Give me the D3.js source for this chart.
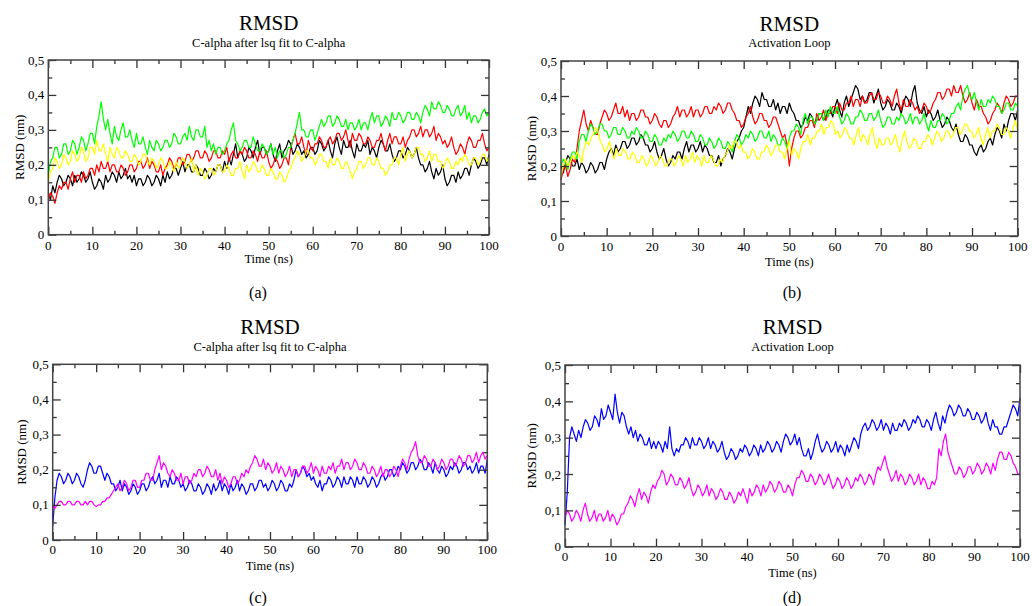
<!DOCTYPE html>
<html><head><meta charset="utf-8">
<script src="https://cdn.jsdelivr.net/npm/d3@7"></script>
<style>body{margin:0;background:#fff}svg{display:block}text{font-family:"Liberation Serif","Times New Roman",serif;fill:#000}</style>
</head><body><svg id="c" width="1032" height="606"></svg>
<script>
// ---- data (RMSD in nm, sampled every 0.5 ns from t = 0 to 100 ns) ----
const xTicks = [0,10,20,30,40,50,60,70,80,90,100];
const yTicks = [0,0.1,0.2,0.3,0.4,0.5];
const yTickLabels = ["0","0,1","0,2","0,3","0,4","0,5"];
const titles = ["RMSD","RMSD","RMSD","RMSD"];
const subtitles = ["C-alpha after lsq fit to C-alpha","Activation Loop","C-alpha after lsq fit to C-alpha","Activation Loop"];
const captions = ["(a)","(b)","(c)","(d)"];

const aBlack = [.12,.1,.14,.12,.15,.17,.16,.14,.15,.17,.16,.14,.17,.15,.16,.18,.17,.15,.16,.18,.15,.13,.14,.16,.15,.13,.17,.15,.16,.18,.17,.15,.18,.16,.17,.19,.16,.17,.15,.17,.14,.16,.16,.14,.15,.17,.16,.14,.15,.17,.16,.14,.17,.15,.18,.16,.17,.19,.19,.17,.19,.21,.18,.2,.2,.18,.18,.2,.19,.17,.17,.19,.18,.16,.17,.19,.18,.2,.2,.18,.21,.19,.22,.2,.23,.26,.22,.24,.23,.21,.22,.25,.24,.22,.25,.27,.23,.25,.25,.23,.24,.26,.23,.21,.24,.26,.22,.24,.25,.27,.26,.23,.24,.26,.25,.23,.24,.22,.23,.25,.25,.23,.24,.27,.26,.24,.25,.27,.24,.22,.26,.28,.25,.23,.27,.25,.25,.27,.24,.22,.26,.24,.24,.26,.25,.27,.23,.25,.24,.22,.25,.27,.26,.24,.24,.26,.23,.21,.22,.24,.24,.22,.23,.25,.24,.22,.23,.25,.22,.2,.2,.18,.19,.21,.18,.16,.19,.17,.18,.2,.16,.14,.15,.17,.17,.15,.18,.16,.17,.19,.19,.17,.2,.22,.21,.19,.2,.22,.22,.2,.23];
const aRed = [.1,.12,.11,.09,.12,.14,.13,.15,.15,.13,.16,.18,.15,.17,.17,.15,.18,.16,.17,.19,.19,.17,.2,.18,.21,.19,.19,.21,.18,.2,.2,.18,.18,.2,.19,.17,.18,.2,.2,.18,.19,.21,.21,.19,.2,.22,.19,.21,.2,.18,.18,.2,.17,.19,.2,.22,.21,.19,.2,.22,.22,.2,.21,.23,.23,.21,.22,.24,.24,.22,.22,.24,.23,.21,.22,.24,.24,.22,.22,.24,.23,.25,.21,.23,.24,.22,.22,.24,.23,.25,.24,.22,.22,.24,.23,.21,.24,.22,.22,.24,.21,.19,.2,.22,.21,.19,.2,.22,.22,.2,.25,.27,.29,.26,.26,.28,.25,.23,.27,.25,.24,.26,.26,.28,.27,.25,.25,.27,.28,.26,.27,.29,.29,.27,.28,.3,.27,.25,.29,.27,.27,.29,.28,.26,.26,.28,.27,.25,.25,.27,.27,.29,.26,.24,.27,.29,.26,.28,.28,.26,.26,.28,.25,.27,.28,.3,.3,.28,.29,.31,.28,.3,.3,.28,.29,.31,.27,.29,.28,.26,.27,.25,.26,.28,.25,.23,.24,.26,.25,.23,.26,.28,.27,.25,.25,.27,.27,.29,.26,.24,.25];
const aGreen = [.17,.21,.22,.25,.25,.22,.23,.26,.26,.23,.24,.27,.26,.23,.25,.28,.27,.24,.26,.29,.29,.26,.31,.34,.38,.33,.3,.33,.29,.26,.31,.28,.27,.3,.32,.28,.28,.3,.27,.25,.29,.26,.26,.28,.25,.23,.27,.25,.24,.27,.26,.24,.25,.27,.27,.25,.26,.29,.28,.26,.26,.28,.29,.27,.31,.28,.27,.3,.3,.28,.28,.31,.25,.27,.24,.26,.23,.25,.25,.23,.24,.26,.27,.3,.32,.27,.26,.24,.25,.27,.27,.25,.25,.28,.26,.24,.24,.26,.25,.23,.24,.26,.23,.25,.22,.24,.24,.22,.23,.25,.25,.27,.29,.32,.35,.3,.3,.28,.28,.3,.3,.27,.29,.31,.33,.31,.32,.34,.34,.31,.32,.34,.33,.31,.31,.33,.3,.32,.32,.3,.31,.33,.3,.32,.32,.3,.33,.35,.32,.34,.34,.31,.32,.34,.33,.31,.35,.33,.33,.35,.34,.32,.33,.35,.35,.33,.33,.35,.34,.32,.35,.37,.36,.34,.38,.36,.36,.38,.37,.35,.35,.37,.36,.34,.34,.36,.37,.34,.35,.37,.33,.35,.32,.34,.34,.32,.33,.35,.36,.34,.35];
const aYellow = [.15,.18,.19,.22,.21,.19,.2,.23,.22,.2,.21,.24,.23,.21,.22,.25,.24,.21,.22,.25,.25,.23,.27,.24,.24,.26,.23,.21,.25,.23,.22,.25,.24,.22,.22,.24,.23,.21,.21,.23,.22,.2,.21,.23,.23,.21,.2,.22,.21,.19,.2,.22,.21,.19,.19,.21,.2,.18,.21,.19,.2,.22,.21,.19,.2,.22,.18,.2,.17,.19,.18,.16,.17,.19,.19,.17,.18,.2,.2,.18,.18,.2,.19,.17,.17,.19,.19,.21,.18,.16,.2,.18,.19,.21,.2,.18,.18,.2,.19,.17,.17,.19,.18,.16,.16,.18,.17,.15,.16,.18,.19,.21,.22,.24,.23,.21,.22,.24,.24,.22,.22,.2,.21,.23,.23,.21,.21,.19,.22,.2,.2,.22,.21,.19,.19,.21,.2,.18,.16,.18,.19,.21,.21,.19,.2,.22,.22,.2,.2,.22,.21,.19,.19,.17,.18,.2,.2,.22,.22,.2,.23,.25,.21,.23,.24,.22,.23,.25,.25,.23,.23,.21,.22,.24,.21,.23,.23,.21,.21,.19,.2,.22,.21,.19,.19,.21,.2,.22,.21,.23,.22,.2,.2,.22,.22,.2,.21,.23,.23,.21,.22];

const bBlack = [.2,.18,.21,.23,.22,.2,.2,.22,.19,.21,.2,.18,.19,.21,.2,.18,.19,.21,.21,.19,.22,.24,.25,.23,.26,.24,.25,.27,.27,.25,.26,.28,.28,.26,.27,.29,.28,.26,.26,.24,.25,.27,.24,.22,.23,.25,.22,.2,.21,.23,.22,.24,.24,.22,.25,.27,.24,.26,.26,.24,.25,.27,.24,.26,.25,.23,.23,.21,.21,.23,.2,.22,.23,.25,.24,.22,.25,.27,.28,.3,.31,.34,.37,.35,.38,.4,.39,.37,.41,.39,.39,.37,.37,.39,.36,.38,.35,.37,.37,.35,.38,.36,.35,.33,.33,.31,.32,.34,.33,.35,.34,.32,.33,.35,.35,.33,.34,.36,.36,.34,.37,.39,.36,.34,.38,.4,.37,.39,.41,.43,.42,.39,.4,.38,.39,.41,.41,.38,.4,.42,.38,.36,.37,.39,.38,.36,.36,.38,.37,.35,.38,.4,.39,.37,.41,.43,.38,.36,.35,.37,.34,.36,.35,.33,.34,.36,.33,.31,.32,.34,.33,.31,.3,.32,.29,.27,.27,.29,.28,.26,.26,.24,.23,.25,.26,.24,.25,.27,.28,.26,.29,.31,.3,.28,.32,.3,.33,.35,.35,.33,.36];
const bRed = [.16,.19,.2,.17,.19,.22,.21,.25,.3,.33,.36,.32,.3,.33,.31,.29,.29,.32,.34,.36,.35,.33,.34,.36,.38,.35,.35,.37,.34,.36,.33,.35,.35,.33,.34,.36,.36,.34,.34,.32,.33,.35,.34,.32,.31,.33,.33,.31,.32,.34,.35,.37,.34,.36,.36,.34,.35,.37,.34,.36,.36,.34,.35,.37,.37,.35,.35,.37,.36,.38,.37,.35,.36,.38,.38,.36,.35,.33,.33,.31,.32,.34,.35,.37,.34,.32,.33,.35,.35,.33,.33,.31,.32,.34,.34,.32,.3,.28,.29,.26,.2,.25,.28,.3,.3,.28,.29,.31,.31,.33,.33,.31,.35,.33,.34,.36,.33,.35,.35,.37,.37,.35,.38,.36,.36,.38,.38,.4,.37,.39,.39,.37,.4,.38,.38,.4,.41,.39,.39,.41,.4,.38,.38,.4,.39,.37,.4,.42,.38,.36,.39,.37,.37,.39,.38,.36,.37,.35,.36,.38,.37,.35,.36,.38,.39,.41,.41,.39,.4,.42,.42,.4,.43,.41,.41,.43,.4,.38,.39,.41,.38,.36,.39,.37,.37,.35,.34,.32,.33,.35,.36,.38,.37,.35,.38,.4,.39,.37,.38,.4,.4];
const bGreen = [.2,.22,.21,.19,.22,.24,.24,.22,.27,.29,.29,.27,.3,.32,.31,.29,.3,.32,.32,.3,.3,.28,.29,.31,.31,.29,.29,.31,.3,.28,.28,.3,.29,.31,.3,.28,.28,.3,.29,.27,.27,.29,.28,.26,.26,.28,.27,.29,.28,.3,.29,.27,.28,.3,.3,.28,.28,.3,.29,.27,.27,.29,.28,.26,.26,.28,.27,.25,.26,.28,.27,.25,.25,.27,.26,.24,.27,.29,.28,.26,.27,.29,.28,.3,.29,.27,.28,.3,.3,.28,.28,.3,.27,.29,.28,.26,.26,.28,.27,.25,.28,.3,.3,.32,.31,.29,.33,.35,.32,.34,.34,.32,.33,.35,.35,.33,.36,.34,.37,.35,.35,.37,.34,.32,.33,.35,.34,.32,.32,.34,.34,.36,.35,.33,.33,.35,.35,.33,.34,.36,.33,.31,.32,.34,.34,.32,.32,.34,.33,.35,.34,.32,.33,.35,.32,.34,.34,.32,.33,.35,.32,.3,.33,.31,.31,.33,.33,.35,.34,.32,.33,.35,.35,.37,.38,.36,.4,.42,.43,.4,.39,.41,.38,.36,.39,.37,.37,.39,.38,.4,.39,.37,.37,.35,.36,.38,.38,.36,.36,.38,.37];
const bYellow = [.17,.2,.22,.2,.21,.23,.22,.24,.23,.21,.25,.27,.26,.28,.29,.31,.3,.27,.26,.24,.25,.27,.24,.22,.25,.23,.23,.25,.24,.22,.22,.24,.23,.21,.21,.23,.22,.2,.21,.23,.22,.2,.21,.23,.22,.2,.2,.22,.22,.2,.21,.23,.22,.2,.23,.21,.22,.24,.21,.23,.22,.2,.23,.21,.21,.23,.22,.2,.2,.22,.21,.23,.24,.26,.25,.27,.27,.25,.26,.24,.24,.22,.23,.25,.24,.22,.22,.24,.24,.26,.25,.23,.24,.26,.26,.24,.24,.22,.25,.27,.23,.25,.24,.22,.25,.27,.27,.29,.26,.28,.28,.3,.3,.32,.29,.31,.31,.33,.32,.29,.3,.28,.29,.31,.3,.28,.28,.26,.29,.31,.27,.29,.28,.26,.29,.31,.27,.25,.28,.26,.26,.28,.28,.26,.27,.29,.26,.24,.28,.3,.27,.25,.26,.28,.27,.25,.25,.27,.27,.29,.28,.26,.28,.3,.29,.27,.28,.3,.3,.28,.29,.31,.31,.29,.3,.32,.32,.3,.3,.28,.29,.31,.28,.26,.29,.31,.28,.3,.3,.32,.31,.29,.29,.31,.3,.28,.31,.33,.3];

const cBlue = [.04,.12,.17,.19,.18,.16,.17,.19,.18,.16,.17,.19,.18,.16,.15,.17,.2,.22,.21,.19,.19,.21,.21,.19,.17,.19,.18,.16,.16,.14,.15,.17,.14,.16,.15,.13,.14,.16,.15,.13,.14,.16,.16,.14,.15,.17,.18,.16,.17,.19,.15,.17,.17,.15,.18,.16,.16,.18,.17,.15,.16,.14,.15,.17,.16,.14,.14,.16,.15,.13,.14,.16,.15,.13,.16,.14,.15,.17,.14,.16,.15,.13,.16,.14,.15,.17,.14,.16,.15,.13,.14,.16,.16,.14,.15,.17,.17,.15,.16,.14,.15,.17,.16,.14,.15,.17,.16,.14,.14,.16,.15,.17,.2,.18,.19,.21,.2,.18,.19,.17,.18,.16,.15,.17,.14,.16,.16,.18,.17,.15,.16,.18,.17,.15,.18,.16,.16,.18,.17,.15,.18,.16,.16,.18,.17,.15,.16,.18,.17,.15,.16,.18,.19,.17,.18,.2,.2,.18,.19,.21,.2,.22,.21,.19,.2,.22,.22,.2,.21,.23,.22,.2,.2,.22,.21,.19,.22,.2,.19,.21,.2,.18,.19,.21,.2,.22,.21,.19,.2,.22,.22,.2,.21,.19,.2,.22,.19,.21,.21,.19,.23];
const cMagenta = [.1,.09,.1,.11,.11,.1,.1,.11,.11,.1,.1,.11,.11,.1,.1,.11,.1,.11,.11,.1,.095,.1,.1,.11,.11,.12,.12,.13,.14,.15,.16,.14,.15,.17,.16,.14,.15,.17,.17,.15,.15,.17,.17,.19,.19,.17,.17,.2,.22,.24,.2,.22,.21,.19,.18,.2,.19,.17,.17,.19,.16,.18,.18,.16,.17,.19,.18,.2,.2,.18,.19,.21,.2,.18,.18,.2,.17,.19,.16,.18,.17,.15,.16,.18,.18,.16,.17,.19,.18,.2,.19,.21,.22,.24,.23,.21,.21,.23,.2,.22,.21,.19,.2,.22,.19,.21,.2,.18,.19,.21,.18,.2,.2,.18,.19,.21,.21,.19,.2,.22,.19,.21,.2,.18,.21,.19,.19,.21,.2,.22,.19,.21,.21,.23,.2,.22,.22,.2,.21,.23,.22,.2,.2,.22,.21,.19,.19,.21,.2,.18,.19,.21,.18,.2,.2,.18,.19,.21,.2,.18,.21,.23,.22,.2,.23,.25,.26,.28,.24,.22,.22,.24,.23,.21,.21,.23,.22,.2,.21,.23,.22,.2,.21,.23,.23,.21,.22,.24,.23,.21,.22,.24,.24,.22,.23,.25,.22,.24,.25,.23,.24];

const dBlue = [.06,.15,.3,.33,.31,.29,.32,.3,.33,.35,.34,.32,.33,.36,.35,.33,.38,.35,.36,.39,.37,.35,.42,.37,.34,.37,.36,.33,.31,.33,.3,.32,.29,.31,.3,.28,.28,.3,.27,.29,.27,.29,.28,.26,.29,.27,.33,.27,.25,.27,.26,.28,.28,.3,.29,.27,.3,.28,.28,.3,.29,.27,.28,.3,.27,.29,.28,.26,.27,.29,.26,.24,.25,.27,.26,.24,.25,.27,.26,.28,.27,.25,.26,.28,.27,.25,.28,.26,.27,.29,.28,.26,.27,.29,.28,.26,.29,.31,.3,.28,.29,.31,.28,.3,.27,.25,.25,.27,.24,.26,.29,.31,.28,.26,.27,.29,.28,.26,.27,.29,.26,.28,.27,.25,.28,.26,.28,.3,.29,.27,.31,.33,.34,.32,.33,.35,.34,.32,.33,.35,.32,.34,.33,.31,.34,.32,.32,.34,.33,.35,.34,.32,.33,.35,.34,.36,.35,.33,.33,.35,.34,.32,.35,.37,.34,.32,.36,.34,.37,.39,.38,.36,.37,.39,.38,.36,.36,.38,.37,.35,.35,.37,.36,.34,.35,.37,.34,.32,.35,.33,.33,.31,.31,.33,.33,.35,.37,.39,.38,.36,.41];
const dMagenta = [.08,.1,.09,.07,.08,.1,.09,.07,.1,.12,.09,.07,.08,.1,.07,.09,.09,.07,.08,.1,.07,.09,.08,.06,.07,.09,.09,.11,.12,.14,.13,.11,.14,.16,.13,.15,.14,.12,.15,.17,.16,.18,.19,.21,.2,.17,.18,.2,.19,.17,.17,.19,.18,.16,.17,.19,.16,.14,.15,.17,.16,.14,.15,.17,.14,.16,.15,.13,.14,.16,.15,.13,.13,.15,.14,.12,.13,.15,.14,.16,.14,.12,.16,.14,.15,.17,.16,.14,.17,.15,.16,.18,.17,.15,.16,.18,.17,.15,.15,.17,.16,.14,.17,.19,.19,.21,.2,.18,.18,.2,.19,.17,.18,.2,.19,.17,.18,.2,.18,.16,.17,.19,.18,.16,.17,.19,.18,.16,.17,.19,.18,.2,.19,.17,.18,.2,.19,.17,.2,.22,.21,.23,.25,.22,.2,.18,.19,.21,.18,.2,.19,.17,.18,.2,.19,.17,.18,.2,.17,.19,.18,.16,.16,.18,.17,.19,.27,.25,.29,.31,.26,.24,.22,.2,.2,.22,.21,.19,.2,.22,.22,.2,.21,.23,.22,.2,.21,.23,.22,.2,.23,.21,.24,.26,.26,.24,.24,.26,.25,.23,.22,.2,.2];

// ---- layout ----
const panels = [
  {l:48.3,r:489,t:60,b:234.7, series:[[aBlack,"#000000"],[aRed,"#ff0000"],[aGreen,"#00ff00"],[aYellow,"#ffff00"]], titleY:30, subY:47, xlabY:250, xtitY:263, capX:258, capY:298, ytitX:19},
  {l:561,r:1017.7,t:61,b:236, series:[[bBlack,"#000000"],[bRed,"#ff0000"],[bGreen,"#00ff00"],[bYellow,"#ffff00"]], titleY:31, subY:47, xlabY:251, xtitY:266, capX:792, capY:298, ytitX:531},
  {l:52.7,r:487.3,t:364.3,b:540, series:[[cBlue,"#0000ff"],[cMagenta,"#ff00ff"]], titleY:334, subY:351, xlabY:554, xtitY:570, capX:258, capY:603, ytitX:21},
  {l:565,r:1020,t:365,b:546.7, series:[[dBlue,"#0000ff"],[dMagenta,"#ff00ff"]], titleY:334, subY:351, xlabY:561, xtitY:577, capX:792, capY:603, ytitX:531}
];

const svg = d3.select("#c");
panels.forEach((p, pi) => {
  const x = d3.scaleLinear().domain([0,100]).range([p.l,p.r]);
  const y = d3.scaleLinear().domain([0,0.5]).range([p.b,p.t]);
  const g = svg.append("g");
  const cx = (p.l+p.r)/2;
  g.append("text").attr("x",cx).attr("y",p.titleY).attr("text-anchor","middle").attr("font-size",21).text(titles[pi]);
  g.append("text").attr("x",cx).attr("y",p.subY).attr("text-anchor","middle").attr("font-size",12.5).text(subtitles[pi]);
  g.append("text").attr("x",p.capX).attr("y",p.capY).attr("text-anchor","middle").attr("font-size",16).text(captions[pi]);
  g.append("text").attr("x",cx).attr("y",p.xtitY).attr("text-anchor","middle").attr("font-size",12.5).text("Time (ns)");
  g.append("text").attr("transform",`translate(${p.ytitX},${(p.t+p.b)/2}) rotate(-90)`).attr("text-anchor","middle").attr("dominant-baseline","central").attr("font-size",13).text("RMSD (nm)");

  // series (time grid: samples evenly spaced over 0..100 ns)
  p.series.forEach(([vals,col]) => {
    const step = 100/(vals.length-1);
    const line = d3.line().x((d,i)=>x(i*step)).y(d=>y(d));
    g.append("path").datum(vals).attr("d",line).attr("fill","none").attr("stroke",col).attr("stroke-width",1.2).attr("stroke-linejoin","round");
  });

  // axes with inward ticks on all four sides
  const minorX = d3.range(5,100,10), minorY = [0.05,0.15,0.25,0.35,0.45];
  const mk = (axis, tr) => g.append("g").attr("transform",tr).call(axis).call(s=>s.select(".domain").remove()).call(s=>s.selectAll("line").attr("stroke","#333").attr("stroke-width",1.3));
  mk(d3.axisTop(x).tickValues(xTicks).tickSize(8).tickFormat(""), `translate(0,${p.b})`);
  mk(d3.axisTop(x).tickValues(minorX).tickSize(4).tickFormat(""), `translate(0,${p.b})`);
  mk(d3.axisBottom(x).tickValues(xTicks).tickSize(8).tickFormat(""), `translate(0,${p.t})`);
  mk(d3.axisBottom(x).tickValues(minorX).tickSize(4).tickFormat(""), `translate(0,${p.t})`);
  mk(d3.axisRight(y).tickValues(yTicks).tickSize(8).tickFormat(""), `translate(${p.l},0)`);
  mk(d3.axisRight(y).tickValues(minorY).tickSize(4).tickFormat(""), `translate(${p.l},0)`);
  mk(d3.axisLeft(y).tickValues(yTicks).tickSize(8).tickFormat(""), `translate(${p.r},0)`);
  mk(d3.axisLeft(y).tickValues(minorY).tickSize(4).tickFormat(""), `translate(${p.r},0)`);

  // tick labels
  xTicks.forEach(v => g.append("text").attr("x",x(v)).attr("y",p.xlabY).attr("text-anchor","middle").attr("font-size",13).text(v));
  yTicks.forEach((v,i) => g.append("text").attr("x",p.l-4).attr("y",y(v)).attr("text-anchor","end").attr("dominant-baseline","central").attr("font-size",13).text(yTickLabels[i]));

  g.append("rect").attr("x",p.l).attr("y",p.t).attr("width",p.r-p.l).attr("height",p.b-p.t).attr("fill","none").attr("stroke","#444").attr("stroke-width",1.5);
});
</script></body></html>
